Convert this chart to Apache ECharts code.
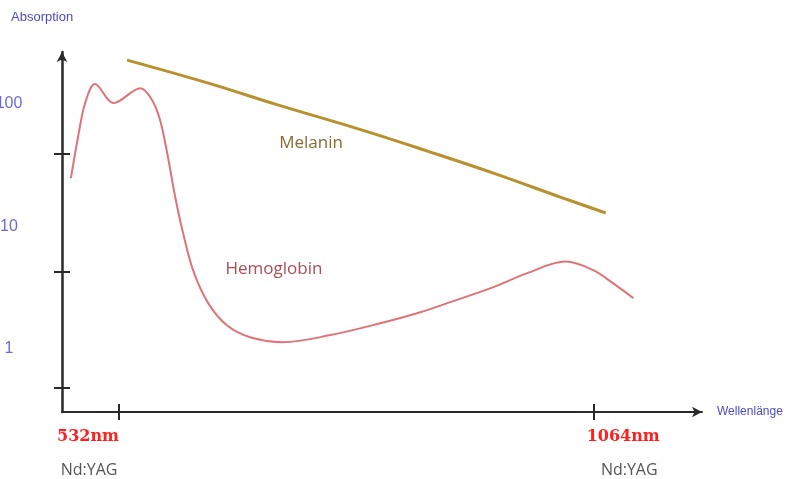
<!DOCTYPE html>
<html>
<head>
<meta charset="utf-8">
<script src="https://cdn.jsdelivr.net/npm/echarts@6/dist/echarts.min.js"></script>
<style>
  html, body { margin: 0; padding: 0; background: #fff; }
  #main { width: 787px; height: 479px; }
</style>
</head>
<body>
<div id="main"></div>
<script>
// axis ranges (wavelength in nm, absorption on log scale)
var wavelengthRange = [468, 1186];
var absorptionRange = [0.3, 267];

// hemoglobin absorption curve
var hemoglobinNm  = [478, 486, 494, 505, 526, 556, 569, 578, 586, 595, 603, 615, 632, 653, 679, 716, 769, 825, 870, 907, 952, 990, 1033, 1064, 1086, 1109];
var hemoglobinAbs = [24.7, 53.7, 102, 146, 102, 135, 108, 74, 39.7, 17.3, 9.3, 4.36, 2.34, 1.54, 1.23, 1.12, 1.28, 1.6, 1.97, 2.43, 3.16, 4.12, 5.12, 4.36, 3.41, 2.57];

// melanin absorption curve
var melaninNm  = [541, 634, 709, 803, 878, 952, 1027, 1078];
var melaninAbs = [229, 147, 99, 61.8, 41.2, 27.2, 17.3, 12.8];

// ticks and labels
var xTickValues = [532, 1064];
var xTickLabels = ['532nm', '1064nm'];
var xSubLabels = ['Nd:YAG', 'Nd:YAG'];
var yLabelValues = [1, 10, 100];
var yTickValues = [0.47, 4.2, 39];

function pairs(xs, ys) {
  return xs.map(function (x, i) { return [x, ys[i]]; });
}

var axisColor = '#2a2a2a';
var myChart = echarts.init(document.getElementById('main'));

myChart.setOption({
  animation: false,
  title: {
    text: 'Absorption',
    left: 11, top: 11, padding: 0,
    textStyle: { fontSize: 13, fontWeight: 'normal', color: '#4a4ac4', fontFamily: 'Liberation Sans' }
  },
  grid: { left: 62, right: 85, top: 52, bottom: 67, containLabel: false, outerBoundsMode: 'none' },
  xAxis: [{
    type: 'value',
    min: wavelengthRange[0], max: wavelengthRange[1],
    name: 'Wellenlänge', nameLocation: 'end', nameGap: 15,
    nameTextStyle: { fontSize: 12, color: '#4a4ac4', fontFamily: 'Liberation Sans' },
    splitLine: { show: false },
    axisLine: { onZero: false, lineStyle: { color: axisColor, width: 2 }, symbol: ['none', 'arrow'], symbolSize: [8, 10] },
    axisTick: { customValues: xTickValues, length: 8, lineStyle: { color: axisColor, width: 2 } },
    axisLabel: {
      customValues: xTickValues,
      margin: 15,
      formatter: function (v) {
        var i = xTickValues.indexOf(v);
        return i === 0 ? '{a|' + xTickLabels[0] + '}\n{c|' + xSubLabels[0] + '}'
                       : '{b|' + xTickLabels[1] + '}\n{d|' + xSubLabels[1] + '}';
      },
      rich: {
        a: { fontFamily: 'DejaVu Serif', fontWeight: 'bold', fontSize: 16, color: '#ff1f1f', lineHeight: 20, padding: [0, 62, 0, 0] },
        b: { fontFamily: 'DejaVu Serif', fontWeight: 'bold', fontSize: 16, color: '#ff1f1f', lineHeight: 20, padding: [0, 0, 0, 60] },
        c: { fontFamily: 'Open Sans', fontSize: 16, color: '#555', lineHeight: 47, padding: [0, 60, 0, 0] },
        d: { fontFamily: 'Open Sans', fontSize: 16, color: '#555', lineHeight: 47, padding: [0, 0, 0, 72] }
      }
    }
  }, {
    type: 'value', position: 'bottom',
    min: wavelengthRange[0], max: wavelengthRange[1],
    splitLine: { show: false },
    axisLine: { show: false, onZero: false },
    axisLabel: { show: false },
    axisTick: { inside: true, customValues: xTickValues, length: 8, lineStyle: { color: axisColor, width: 2 } }
  }],
  yAxis: [{
    type: 'log', position: 'left',
    min: absorptionRange[0], max: absorptionRange[1],
    splitLine: { show: false },
    axisLine: { onZero: false, lineStyle: { color: axisColor, width: 2.5 }, symbol: ['none', 'arrow'], symbolSize: [8, 10] },
    axisTick: { show: false },
    axisLabel: {
      showMinLabel: false, showMaxLabel: false,
      align: 'center', margin: 53,
      fontSize: 16, color: '#6b6bd4', fontFamily: 'Liberation Sans',
      formatter: function (v) {
        for (var i = 0; i < yLabelValues.length; i++) {
          if (Math.abs(v - yLabelValues[i]) / yLabelValues[i] < 1e-6) return String(yLabelValues[i]);
        }
        return '';
      }
    }
  }, {
    type: 'value', position: 'left',
    min: Math.log10(absorptionRange[0]), max: Math.log10(absorptionRange[1]),
    splitLine: { show: false }, axisLine: { show: false, onZero: false }, axisLabel: { show: false },
    axisTick: { customValues: yTickValues.map(Math.log10), length: 8, lineStyle: { color: axisColor, width: 2 } }
  }, {
    type: 'value', position: 'left',
    min: Math.log10(absorptionRange[0]), max: Math.log10(absorptionRange[1]),
    splitLine: { show: false }, axisLine: { show: false, onZero: false }, axisLabel: { show: false },
    axisTick: { inside: true, customValues: yTickValues.map(Math.log10), length: 8, lineStyle: { color: axisColor, width: 2 } }
  }],
  graphic: [
    { type: 'text', x: 311, y: 143, style: { text: 'Melanin', fill: '#8a6a30', font: '17px "Open Sans"', align: 'center', verticalAlign: 'middle' } },
    { type: 'text', x: 274, y: 269, style: { text: 'Hemoglobin', fill: '#ad4c55', font: '17px "Open Sans"', align: 'center', verticalAlign: 'middle' } }
  ],
  series: [{
    name: 'Hemoglobin', type: 'line', smooth: 0.35, showSymbol: false,
    xAxisIndex: 0, yAxisIndex: 0,
    lineStyle: { color: '#de7479', width: 2 },
    data: pairs(hemoglobinNm, hemoglobinAbs)
  }, {
    name: 'Melanin', type: 'line', smooth: 0.4, showSymbol: false,
    xAxisIndex: 0, yAxisIndex: 0,
    lineStyle: { color: '#b8912f', width: 3 },
    data: pairs(melaninNm, melaninAbs)
  }]
});
</script>
</body>
</html>
